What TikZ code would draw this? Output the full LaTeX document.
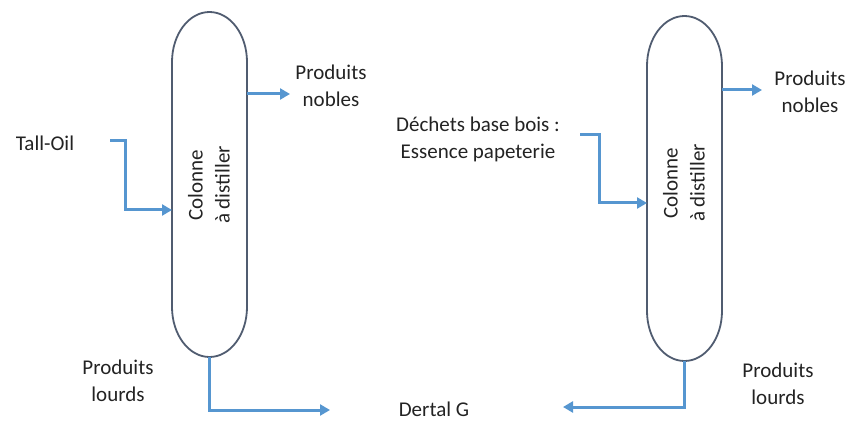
\documentclass[tikz,border=0pt]{standalone}
\usepackage{fontspec}
\setmainfont{Carlito}
\usetikzlibrary{arrows.meta}
\definecolor{flow}{RGB}{86,150,208}
\definecolor{outline}{RGB}{80,92,112}
\definecolor{txt}{RGB}{35,35,35}
\tikzset{
  lbl/.style={text=txt, font=\fontsize{21}{27}\selectfont, align=center, inner sep=0pt},
  flowline/.style={draw=flow, line width=3pt, -{Triangle[length=10pt,width=11pt]}},
  columnshape/.style={draw=outline, line width=1.8pt},
}
\begin{document}
\begin{tikzpicture}[x=1pt,y=1pt]
\useasboundingbox (0,0) rectangle (849,421);
% left column
\draw[columnshape] (172,114) -- (172,359) arc[start angle=180, end angle=0, x radius=37.5pt, y radius=50pt] -- (247,114) arc[start angle=0, end angle=-180, x radius=37.5pt, y radius=50pt] -- cycle;
\node[lbl, rotate=90] (colA) at (209,236) {Colonne\\à distiller};
% right column
\draw[columnshape] (647,110) -- (647,355) arc[start angle=180, end angle=0, x radius=37.5pt, y radius=50pt] -- (722,110) arc[start angle=0, end angle=-180, x radius=37.5pt, y radius=50pt] -- cycle;
\node[lbl, rotate=90] (colB) at (684,238) {Colonne\\à distiller};

% anchors on columns
\coordinate (aIn) at (172,211);
\coordinate (aTop) at (247,327);
\coordinate (aBot) at (209,64);
\coordinate (bIn) at (647,218);
\coordinate (bTop) at (722,331);
\coordinate (bBot) at (684,60);

% labels
\node[lbl] (tall) at (45,278) {Tall-Oil};
\node[lbl] (nobA) at (331,335) {Produits\\nobles};
\node[lbl] (lourdA) at (118,40) {Produits\\lourds};
\node[lbl] (dertal) at (434,12) {Dertal G};
\node[lbl] (dechets) at (478,282) {Déchets base bois :\\Essence papeterie};
\node[lbl] (nobB) at (810,329) {Produits\\nobles};
\node[lbl] (lourdB) at (778,37) {Produits\\lourds};

\coordinate (tallEnd) at (110,280);
\coordinate (dechEnd) at (580,286);
\coordinate (dA) at (330,11);
\coordinate (dB) at (563,14);
\coordinate (nA) at (290,327);
\coordinate (nB) at (762,331);

% flows
\draw[flowline] (tallEnd) -- (125,280) -- (125,211) -- (aIn);
\draw[flowline] (aTop) -- (nA);
\draw[flowline] (aBot) -- (209,11) -- (dA);
\draw[flowline] (dechEnd) -- (599,286) -- (599,218) -- (bIn);
\draw[flowline] (bTop) -- (nB);
\draw[flowline] (bBot) -- (684,14) -- (dB);
\end{tikzpicture}
\end{document}
